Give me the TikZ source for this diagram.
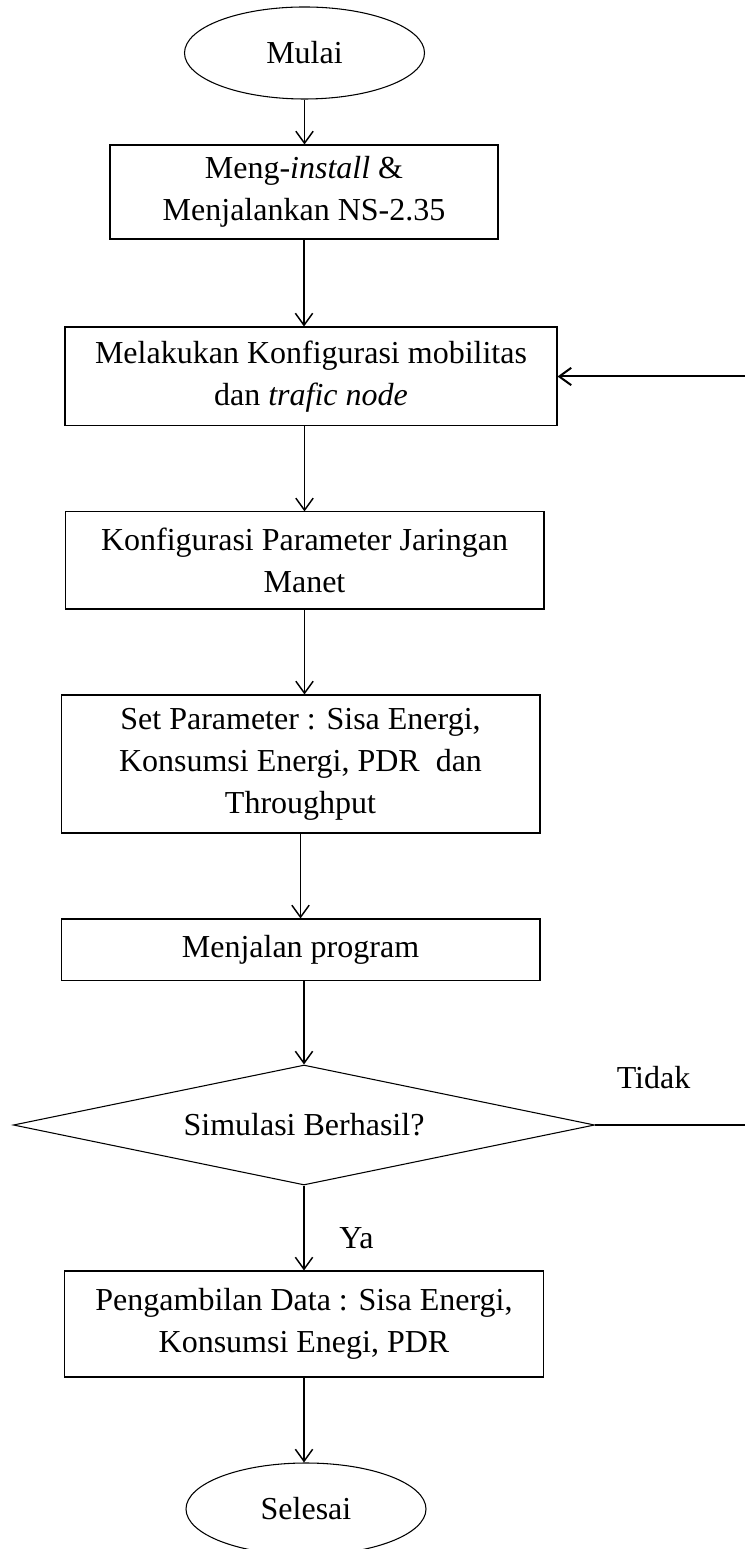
\documentclass[tikz,border=0pt]{standalone}
\usepackage{fontspec}
\setmainfont{Liberation Serif}
\usepackage{tikz}
\usetikzlibrary{shapes.geometric}
\usetikzlibrary{arrows.meta}
\tikzset{
every node/.style={font=\fontsize{12}{15.75}\selectfont, align=center, inner sep=2pt},
box/.style={rectangle, draw, line width=0.4pt, minimum width=179.6pt},
terminal/.style={ellipse, draw, line width=0.4pt, minimum width=90pt, minimum height=34.5pt},
decision/.style={diamond, draw, line width=0.4pt, shape aspect=4.85, inner sep=0pt, minimum width=218pt, minimum height=45pt},
arrow/.style={-{Straight Barb[length=4.5pt,width=6.5pt]}, line width=0.55pt}
}

\begin{document}
\begin{tikzpicture}[x=0.375pt, y=-0.375pt]
\useasboundingbox (0,0) rectangle (744,1549);

\node [terminal] (mulai) at (304.5,53) {Mulai};
\node [box, minimum width=145.5pt, minimum height=35.25pt] (install) at (304,192) {Meng-\textit{install} \&\\Menjalankan NS-2.35};
\node [box, minimum width=184.5pt, minimum height=37.1pt] (konfig) at (311,376.5) {Melakukan Konfigurasi mobilitas\\dan \textit{trafic node}};
\node [box, minimum height=36.4pt] (param) at (304.5,560.5) {Konfigurasi Parameter Jaringan\\Manet};
\node [box, minimum height=51.75pt] (setpar) at (300.5,764) {Set Parameter : Sisa Energi,\\Konsumsi Energi, PDR\ \ dan\\Throughput};
\node [box, minimum height=22.9pt] (jalan) at (300.5,949.5) {Menjalan program};
\node [decision] (cek) at (304,1125) {Simulasi Berhasil?};
\node [box, minimum height=39.75pt] (ambil) at (304,1324) {Pengambilan Data : Sisa Energi,\\Konsumsi Enegi, PDR};
\node [terminal] (selesai) at (306,1509) {Selesai};
\node (tidak) at (653.5,1078) {Tidak};
\node (ya) at (356.5,1238) {Ya};
\coordinate (balik) at (752,1125);

\draw [arrow] (mulai.south) -- (mulai.south |- install.north);
\draw [arrow] (install.south) -- (install.south |- konfig.north);
\draw [arrow] (param.north |- konfig.south) -- (param.north);
\draw [arrow] (param.south) -- (param.south |- setpar.north);
\draw [arrow] (setpar.south) -- (jalan.north);
\draw [arrow] (cek.north |- jalan.south) -- (cek.north);
\draw [arrow] (cek.south) -- (ambil.north);
\draw [arrow] (ambil.south) -- (ambil.south |- selesai.north);
\draw [arrow, line width=0.75pt] (cek.east) -- (balik) |- (konfig.east);
\end{tikzpicture}
\end{document}
